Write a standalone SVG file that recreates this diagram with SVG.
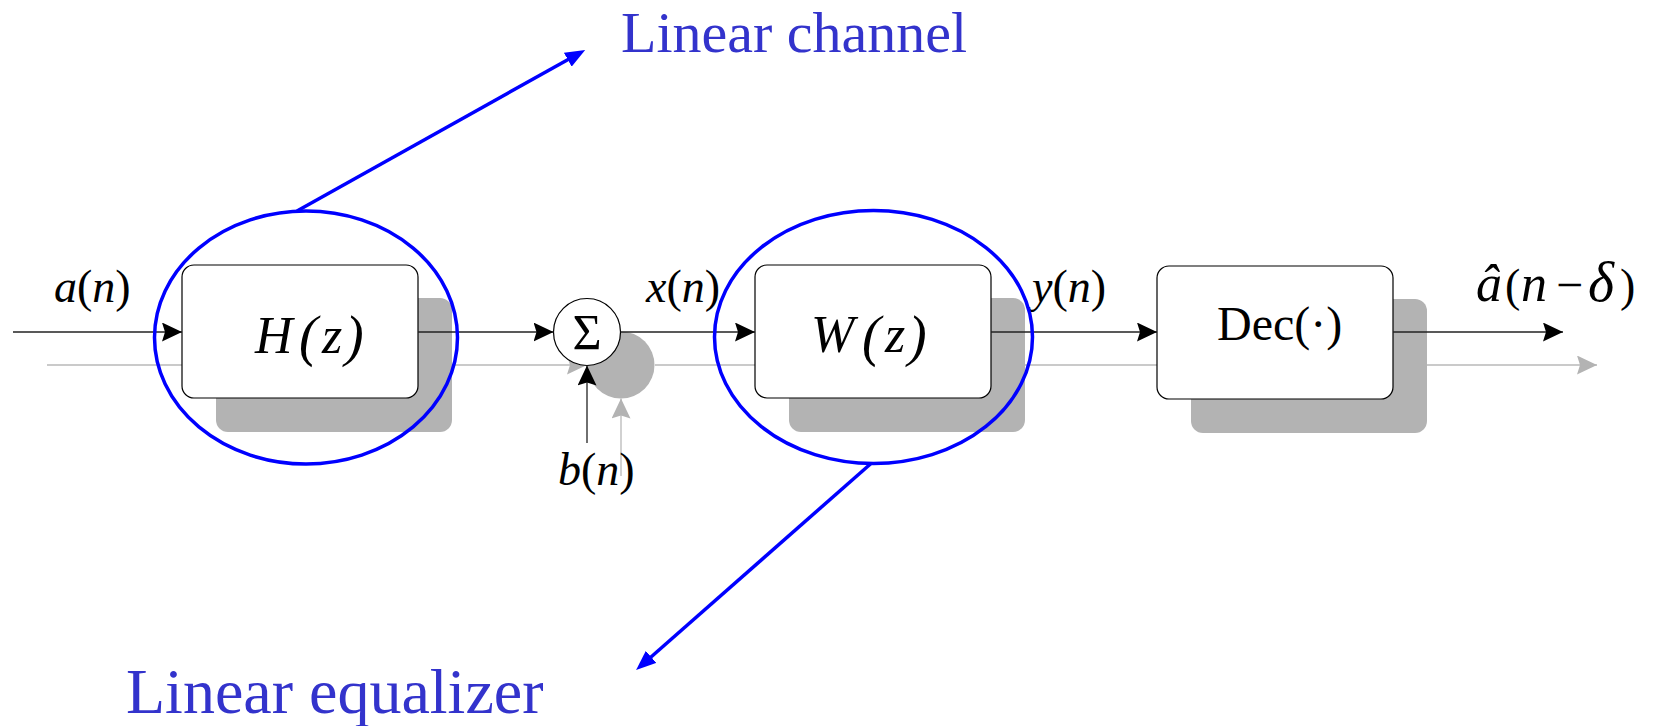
<svg xmlns="http://www.w3.org/2000/svg" width="1653" height="726" viewBox="0 0 1653 726">
<style>
.bg{fill:#ffffff}
.wire{stroke:#222;stroke-width:1.3;fill:none}
.wire-sh{stroke:#b8b8b8;stroke-width:1.3;fill:none}
.shadow{fill:#b3b3b3;stroke:none}
.box{fill:#ffffff;stroke:#000;stroke-width:1.2}
.ring{fill:none;stroke:#0000ff;stroke-width:3.5}
.ptr{stroke:#0000ff;stroke-width:3.5;fill:none}
.serif{font-family:"Liberation Serif",Tinos,"Times New Roman",Times,"DejaVu Serif",serif}
.math{font-size:46px;fill:#000}
.it{font-style:italic}
.blk{font-style:italic;font-size:52px;fill:#000}
.par{font-size:56px}
.note{fill:#3333cc}
</style>
<defs>
<marker id="ah" viewBox="0 0 20 19" refX="20" refY="9.5" markerWidth="20" markerHeight="19" markerUnits="userSpaceOnUse" orient="auto">
<path d="M0,0 L20,9.5 L0,19 L3,9.5 z" fill="#000"/>
</marker>
<marker id="ah-sh" viewBox="0 0 20 19" refX="20" refY="9.5" markerWidth="20" markerHeight="19" markerUnits="userSpaceOnUse" orient="auto">
<path d="M0,0 L20,9.5 L0,19 L3,9.5 z" fill="#b3b3b3"/>
</marker>
<marker id="ah-blue" viewBox="0 0 20 16" refX="2" refY="8" markerWidth="20" markerHeight="16" markerUnits="userSpaceOnUse" orient="auto">
<path d="M0,0 L20,8 L0,16 z" fill="#0000ff"/>
</marker>
</defs>
<rect class="bg" x="0" y="0" width="1653" height="726"/>

<g id="connector-shadows">
<line class="wire-sh" x1="47" y1="365" x2="216" y2="365" marker-end="url(#ah-sh)"/>
<line class="wire-sh" x1="452" y1="365" x2="587" y2="365" marker-end="url(#ah-sh)"/>
<line class="wire-sh" x1="655" y1="365" x2="789" y2="365" marker-end="url(#ah-sh)"/>
<line class="wire-sh" x1="1025" y1="365" x2="1191" y2="365" marker-end="url(#ah-sh)"/>
<line class="wire-sh" x1="1427" y1="365" x2="1597" y2="365" marker-end="url(#ah-sh)"/>
<line class="wire-sh" x1="621" y1="476" x2="621" y2="398.5" marker-end="url(#ah-sh)"/>
</g>

<g id="node-H">
<rect class="shadow" x="216" y="298" width="236" height="134" rx="12"/>
<rect class="box" x="182" y="265" width="236" height="133" rx="12"/>
<text class="serif blk" y="352.5"><tspan x="255">H</tspan><tspan class="par" x="299" y="354.5">(</tspan><tspan x="322" y="352.5">z</tspan><tspan class="par" x="345" y="354.5">)</tspan></text>
</g>

<g id="node-sum">
<circle class="shadow" cx="621" cy="365" r="33.5"/>
<circle class="box" cx="587" cy="332" r="33.5"/>
<text class="serif" x="587" y="349" text-anchor="middle" font-size="50" fill="#000">Σ</text>
</g>

<g id="node-W">
<rect class="shadow" x="789" y="298" width="236" height="134" rx="12"/>
<rect class="box" x="755" y="265" width="236" height="133" rx="12"/>
<text class="serif blk" y="352"><tspan x="811">W</tspan><tspan class="par" x="862" y="354.5">(</tspan><tspan x="885" y="352">z</tspan><tspan class="par" x="908" y="354.5">)</tspan></text>
</g>

<g id="node-Dec">
<rect class="shadow" x="1191" y="299" width="236" height="134" rx="12"/>
<rect class="box" x="1157" y="266" width="236" height="133" rx="12"/>
<text class="serif" x="1217" y="340" font-size="48" fill="#000">Dec(·)</text>
</g>

<g id="connectors">
<line class="wire" x1="13" y1="332" x2="182" y2="332" marker-end="url(#ah)"/>
<line class="wire" x1="418" y1="332" x2="553.5" y2="332" marker-end="url(#ah)"/>
<line class="wire" x1="620.5" y1="332" x2="755" y2="332" marker-end="url(#ah)"/>
<line class="wire" x1="991" y1="332" x2="1157" y2="332" marker-end="url(#ah)"/>
<line class="wire" x1="1393" y1="332" x2="1563" y2="332" marker-end="url(#ah)"/>
<line class="wire" x1="587" y1="443" x2="587" y2="365.5" marker-end="url(#ah)"/>
</g>

<g id="signal-labels">
<text class="serif math" x="54" y="302"><tspan class="it">a</tspan>(<tspan class="it">n</tspan>)</text>
<text class="serif math" x="646" y="302"><tspan class="it">x</tspan>(<tspan class="it">n</tspan>)</text>
<text class="serif math" x="1032" y="302"><tspan class="it">y</tspan>(<tspan class="it">n</tspan>)</text>
<text class="serif math" x="558" y="485"><tspan class="it">b</tspan>(<tspan class="it">n</tspan>)</text>
<text class="serif math" y="301"><tspan class="it" font-size="52" x="1476">â</tspan><tspan x="1505">(</tspan><tspan class="it" font-size="52" x="1521">n</tspan><tspan font-size="48" x="1556">−</tspan><tspan class="it" font-size="56" x="1588">δ</tspan><tspan x="1620">)</tspan></text>
</g>

<g id="annotation-channel">
<ellipse class="ring" cx="306" cy="337.5" rx="151.5" ry="126.5"/>
<line class="ptr" x1="297" y1="211" x2="569.5" y2="58.7" marker-end="url(#ah-blue)"/>
<text class="serif note" x="621" y="52" font-size="58">Linear channel</text>
</g>

<g id="annotation-equalizer">
<ellipse class="ring" cx="873.5" cy="337" rx="159" ry="126.5"/>
<line class="ptr" x1="871" y1="463.5" x2="649.6" y2="658.2" marker-end="url(#ah-blue)"/>
<text class="serif note" x="126" y="713" font-size="64">Linear equalizer</text>
</g>
</svg>
